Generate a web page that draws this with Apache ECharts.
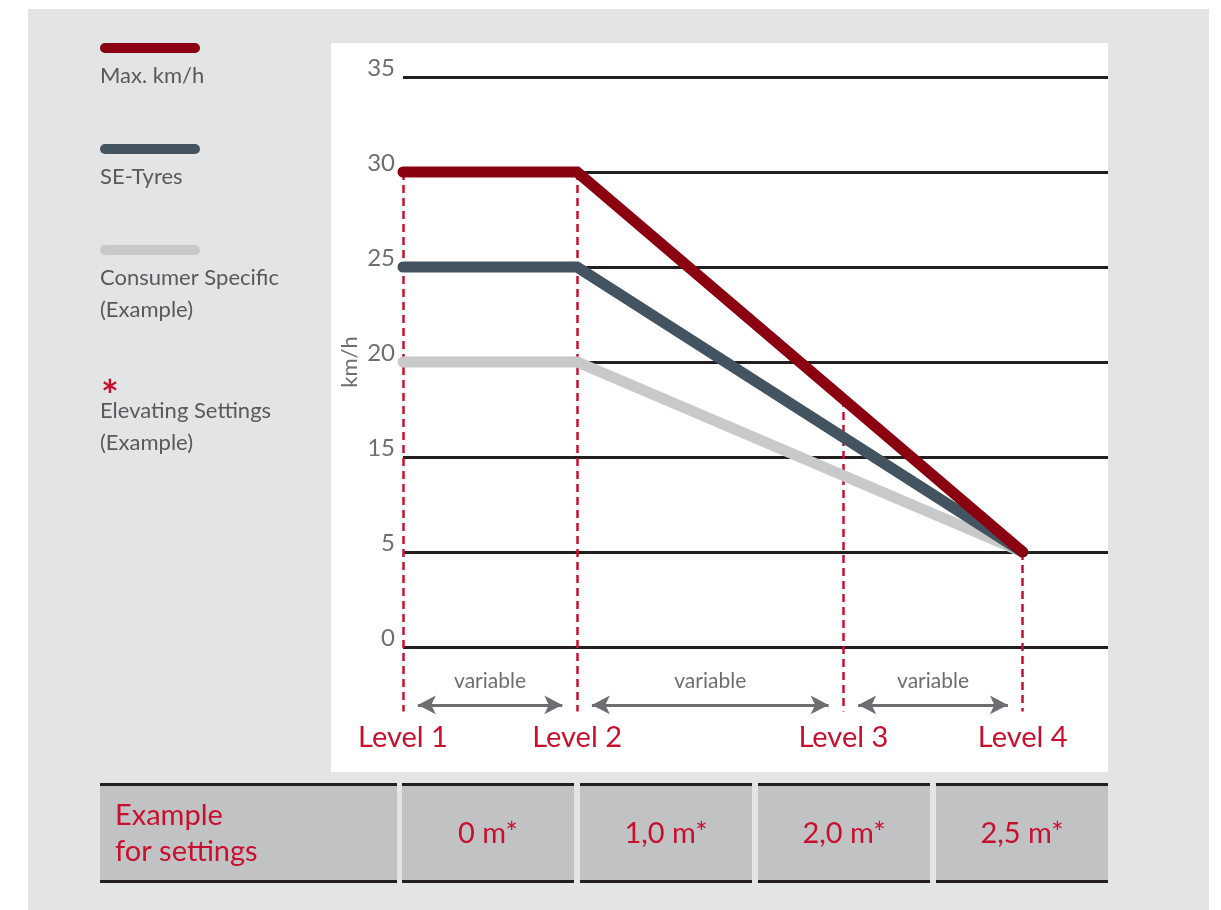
<!DOCTYPE html>
<html><head><meta charset="utf-8">
<script src="https://cdn.jsdelivr.net/npm/echarts@6/dist/echarts.min.js"></script>
<style>html,body{margin:0;padding:0;background:#fff}#c{width:1221px;height:910px}</style>
</head><body><div id="c"></div>
<script>
// ---- data ----
const levels = ['Level 1', 'Level 2', 'Level 3', 'Level 4'];
const levelX = [0, 1, 2.53, 3.56];           // horizontal placement of the levels
const yTicks = [0, 5, 15, 20, 25, 30, 35];   // tick labels (evenly spaced on the axis)
const maxKmh   = [30, 30, null, 5];
const seTyres  = [25, 25, null, 5];
const consumer = [20, 20, null, 5];
const settings = ['0 m*', '1,0 m*', '2,0 m*', '2,5 m*'];
const rowTitle = 'Example\nfor settings';
const spanLabel = 'variable';

const FONT = 'Lato, "Liberation Sans", sans-serif';
const RED = '#c8102e';
const GRAY = '#6d6e71';
const C_MAX = '#8b0011', C_SE = '#435460', C_CON = '#c8c9cb';

// map a km/h value onto the evenly spaced tick axis
function toAxis(v) {
  for (let i = 0; i < yTicks.length - 1; i++) {
    if (v >= yTicks[i] && v <= yTicks[i + 1]) return i + (v - yTicks[i]) / (yTicks[i + 1] - yTicks[i]);
  }
  return yTicks.length - 1;
}
function pts(arr) {
  const out = [];
  arr.forEach((v, i) => { if (v != null) out.push([levelX[i], toAxis(v)]); });
  return out;
}
const sMax = pts(maxKmh), sSe = pts(seTyres), sCon = pts(consumer);

// top of each dashed level line: where the top curve passes
function topAt(i) {
  if (maxKmh[i] != null) return toAxis(maxKmh[i]);
  let a = i - 1; while (maxKmh[a] == null) a--;
  let b = i + 1; while (maxKmh[b] == null) b++;
  const ya = toAxis(maxKmh[a]), yb = toAxis(maxKmh[b]);
  return ya + (yb - ya) * (levelX[i] - levelX[a]) / (levelX[b] - levelX[a]);
}
const DASH_BOTTOM = -0.68, ARROW_Y = -0.61, GAP = 0.085;

const dashLines = levelX.map((x, i) => [{ coord: [x, topAt(i)] }, { coord: [x, DASH_BOTTOM] }]);
const arrows = [];
for (let i = 0; i < levelX.length - 1; i++) {
  arrows.push([{ coord: [levelX[i] + GAP, ARROW_Y] }, { coord: [levelX[i + 1] - GAP, ARROW_Y] }]);
}

const chart = echarts.init(document.getElementById('c'), null, { renderer: 'canvas' });

const splitColors = ['rgba(0,0,0,0)'].concat(yTicks.map(() => '#231f20'));

const lineSeries = (name, data, color) => ({
  name, type: 'line', data, symbol: 'none', silent: true,
  lineStyle: { color, width: 11, cap: 'round', join: 'miter' }, z: 5
});

chart.setOption({
  backgroundColor: '#ffffff',
  animation: false,
  textStyle: { fontFamily: FONT },
  grid: { left: 403, right: 113, top: 77, bottom: 168 },
  xAxis: { type: 'value', min: 0, max: 4.05, show: false },
  yAxis: {
    type: 'value', min: -1, max: 6, interval: 1,
    axisLine: { show: false }, axisTick: { show: false },
    axisLabel: {
      formatter: v => (v >= 0 ? String(yTicks[v]) : ''),
      color: GRAY, fontSize: 24, fontFamily: FONT, margin: 8,
      verticalAlign: 'bottom', lineHeight: 18
    },
    splitLine: { show: true, lineStyle: { color: splitColors, width: 3 } }
  },
  series: [
    {
      type: 'line', data: [], silent: true, z: 3,
      markLine: {
        silent: true, symbol: 'none', animation: false,
        lineStyle: { color: RED, width: 2.5, type: [8, 5] },
        label: { show: false },
        data: dashLines
      }
    },
    {
      type: 'line', data: [], silent: true, z: 3,
      markLine: {
        silent: true, symbol: ['arrow', 'arrow'], symbolSize: [14, 18], animation: false,
        lineStyle: { color: GRAY, width: 3, type: 'solid' },
        label: { show: true, position: 'middle', formatter: spanLabel, color: GRAY, fontSize: 21, fontFamily: FONT, distance: 13 },
        data: arrows
      }
    },
    lineSeries('Consumer Specific', sCon, C_CON),
    lineSeries('SE-Tyres', sSe, C_SE),
    lineSeries('Max. km/h', sMax, C_MAX)
  ]
});

// ---- decoration graphics ----
const g = [];
g.push({ type: 'rect', z: -10, silent: true, shape: { x: 28, y: 9, width: 1181, height: 901 }, style: { fill: '#e3e4e6' } });
g.push({ type: 'rect', z: -9, silent: true, shape: { x: 331, y: 43, width: 777, height: 729 }, style: { fill: '#ffffff' } });

// legend
const legendDefs = [
  { y: 48, color: C_MAX, text: 'Max. km/h' },
  { y: 149, color: C_SE, text: 'SE-Tyres' },
  { y: 250, color: C_CON, text: 'Consumer Specific\n(Example)' }
];
legendDefs.forEach(d => {
  g.push({ type: 'line', z: 10, silent: true, shape: { x1: 105, y1: d.y, x2: 195, y2: d.y }, style: { stroke: d.color, lineWidth: 10, lineCap: 'round' } });
  g.push({ type: 'text', z: 10, silent: true, x: 100, y: d.y + 12, style: { text: d.text, fill: '#58595b', font: '22px ' + FONT, lineHeight: 32, verticalAlign: 'top' } });
});
g.push({ type: 'text', z: 10, silent: true, x: 101, y: 376, style: { text: '*', fill: RED, font: 'bold 42px ' + FONT, verticalAlign: 'top' } });
g.push({ type: 'text', z: 10, silent: true, x: 100, y: 395, style: { text: 'Elevating Settings\n(Example)', fill: '#58595b', font: '22px ' + FONT, lineHeight: 32, verticalAlign: 'top' } });

// level labels & axis title
levels.forEach((lv, i) => {
  const p = chart.convertToPixel({ gridIndex: 0 }, [levelX[i], DASH_BOTTOM]);
  g.push({ type: 'text', z: 10, silent: true, x: p[0], y: p[1] + 26, style: { text: lv, fill: RED, font: '29px ' + FONT, align: 'center', verticalAlign: 'middle' } });
});
const tp = chart.convertToPixel({ gridIndex: 0 }, [0, toAxis(20)]);
g.push({ type: 'text', z: 10, silent: true, x: 350, y: tp[1], rotation: Math.PI / 2, style: { text: 'km/h', fill: GRAY, font: '22px ' + FONT, align: 'center', verticalAlign: 'middle' } });

// table
const cells = [[100, 397], [402, 574], [580, 752], [758, 930], [936, 1108]];
cells.forEach((c, i) => {
  g.push({ type: 'rect', z: 10, silent: true, shape: { x: c[0], y: 784, width: c[1] - c[0], height: 98 }, style: { fill: '#c1c2c4' } });
  g.push({ type: 'line', z: 11, silent: true, shape: { x1: c[0], y1: 784.5, x2: c[1], y2: 784.5 }, style: { stroke: '#231f20', lineWidth: 3 } });
  g.push({ type: 'line', z: 11, silent: true, shape: { x1: c[0], y1: 881.5, x2: c[1], y2: 881.5 }, style: { stroke: '#231f20', lineWidth: 3 } });
  if (i === 0) {
    g.push({ type: 'text', z: 12, silent: true, x: 115, y: 834, style: { text: rowTitle, fill: RED, font: '29px ' + FONT, lineHeight: 36, verticalAlign: 'middle' } });
  } else {
    g.push({ type: 'text', z: 12, silent: true, x: (c[0] + c[1]) / 2, y: 834, style: { text: settings[i - 1], fill: RED, font: '29px ' + FONT, align: 'center', verticalAlign: 'middle' } });
  }
});

chart.setOption({ graphic: { elements: g } });
</script>
</body></html>
